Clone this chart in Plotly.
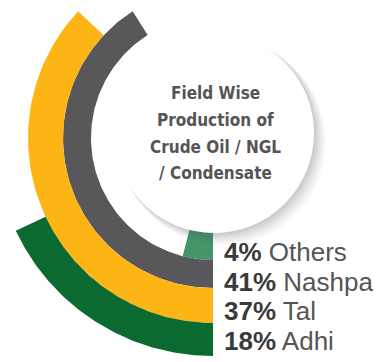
import numpy as np
import plotly.graph_objects as go

# ---- data ----
fields = ["Others", "Nashpa", "Tal", "Adhi"]
shares = [4, 41, 37, 18]          # percent of production (100% = full circle)
colors = ["#44956a", "#58585b", "#fdb515", "#0b6a30"]
ring_inner = [88, 122, 150, 185]  # ring radii in px
ring_width = [34, 28, 35, 33]
title_lines = ["Field Wise", "Production of", "Crude Oil / NGL", "/ Condensate"]

W, H = 376, 362
CX, CY = 213, 138      # centre of the rings (px from top-left)


def arc_polygon(value, r0, r1, n=120):
    """Ring segment starting at 6 o'clock, running clockwise by value% of 360 deg."""
    t = np.radians(np.linspace(0, value * 3.6, n))
    xo, yo = CX - r1 * np.sin(t), CY + r1 * np.cos(t)
    xi, yi = CX - r0 * np.sin(t[::-1]), CY + r0 * np.cos(t[::-1])
    return np.concatenate([xo, xi, xo[:1]]), np.concatenate([yo, yi, yo[:1]])


fig = go.Figure()
for name, v, c, b, w in zip(fields, shares, colors, ring_inner, ring_width):
    xs, ys = arc_polygon(v, b, b + w)
    fig.add_trace(go.Scatter(
        x=xs, y=ys, mode="lines", fill="toself", fillcolor=c,
        line=dict(width=0, color=c), name=name, hoverinfo="name",
        showlegend=False,
    ))

fig.update_layout(
    width=W, height=H,
    margin=dict(l=0, r=0, t=0, b=0),
    paper_bgcolor="white", plot_bgcolor="white",
    xaxis=dict(range=[0, W], visible=False, fixedrange=True),
    yaxis=dict(range=[H, 0], visible=False, fixedrange=True),
)

# white centre disc with a soft shadow
DCX, DCY, DR = 214, 133, 100
shapes = []
for off, op in [(12, 0.035), (10, 0.045), (8, 0.05), (6, 0.06), (4, 0.07), (2, 0.08)]:
    shapes.append(dict(type="circle", xref="x", yref="y", layer="above",
                       x0=DCX - DR + off * 0.5, x1=DCX + DR + off,
                       y0=DCY - DR + off * 0.5, y1=DCY + DR + off,
                       fillcolor=f"rgba(90,90,90,{op})", line=dict(width=0)))
shapes.append(dict(type="circle", xref="x", yref="y", layer="above",
                   x0=DCX - DR, x1=DCX + DR, y0=DCY - DR, y1=DCY + DR,
                   fillcolor="white", line=dict(width=0)))
fig.update_layout(shapes=shapes)

annotations = []
title_y = [93, 120, 147, 173]
for line, yy in zip(title_lines, title_y):
    annotations.append(dict(
        text=line, x=DCX + 1, y=yy, xref="x", yref="y", showarrow=False,
        xanchor="center", yanchor="middle",
        font=dict(family="DejaVu Sans Condensed, DejaVu Sans, sans-serif", size=17,
                  color="#555555", weight="bold"),
    ))

label_y = [252, 282, 311, 341]
for name, v, yy in zip(fields, shares, label_y):
    annotations.append(dict(
        text=f"<b><span style='color:#3a3a3a'>{v}%</span></b> {name}",
        x=222, y=yy, xref="x", yref="y", showarrow=False,
        xanchor="left", yanchor="middle",
        font=dict(family="Liberation Sans, Arial, sans-serif", size=26, color="#555555"),
    ))
fig.update_layout(annotations=annotations)

fig.write_html("out.html")
